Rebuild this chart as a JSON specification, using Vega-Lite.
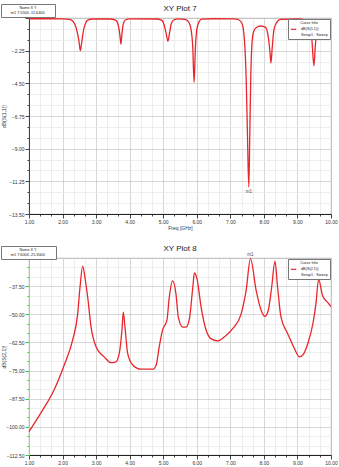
{
  "$schema": "https://vega.github.io/schema/vega-lite/v6.json",
  "padding": {"left": 0, "top": 3, "right": 0, "bottom": 0},
  "background": "white",
  "spacing": 13,
  "config": {
    "font": "Liberation Sans",
    "view": {"stroke": "#9a9a9a", "strokeWidth": 0.8},
    "axis": {"labelFontSize": 5, "titleFontSize": 5, "labelColor": "#333", "titleColor": "#333", "titleFontWeight": "normal", "domainColor": "#444", "tickColor": "#444", "labelOverlap": false, "labelFlush": false, "labelPadding": 1, "titlePadding": 1, "gridWidth": 0.7},
    "axisY": {"minExtent": 21, "maxExtent": 21, "titlePadding": 2},
    "title": {"fontSize": 8, "fontWeight": "normal", "color": "#222", "frame": "group"},
    "legend": {"titleFontSize": 3.8, "labelFontSize": 3.8, "titleFontWeight": "normal", "titleColor": "#222", "labelColor": "#222", "fillColor": "white", "strokeColor": "#777", "padding": 2, "cornerRadius": 0, "titlePadding": 1, "rowPadding": 1, "titleAnchor": "middle"}
  },
  "resolve": {"scale": {"color": "independent", "shape": "independent"}, "legend": {"color": "independent", "shape": "independent"}},
  "datasets": {
    "s11": [
      {"f":1.0,"v":-0.05},{"f":1.5,"v":-0.05},{"f":2.0,"v":-0.06},{"f":2.2,"v":-0.1},{"f":2.3,"v":-0.2},{"f":2.38,"v":-0.5},{"f":2.44,"v":-1.0},{"f":2.49,"v":-1.6},{"f":2.53,"v":-2.25},{"f":2.57,"v":-1.7},{"f":2.62,"v":-0.9},{"f":2.68,"v":-0.4},{"f":2.75,"v":-0.15},{"f":2.9,"v":-0.07},
      {"f":3.4,"v":-0.07},{"f":3.58,"v":-0.15},{"f":3.66,"v":-0.5},{"f":3.71,"v":-1.2},{"f":3.74,"v":-1.8},{"f":3.77,"v":-1.1},{"f":3.81,"v":-0.4},{"f":3.88,"v":-0.12},{"f":4.0,"v":-0.06},
      {"f":4.8,"v":-0.07},{"f":4.95,"v":-0.15},{"f":5.03,"v":-0.5},{"f":5.09,"v":-1.1},{"f":5.14,"v":-1.6},{"f":5.19,"v":-1.0},{"f":5.24,"v":-0.4},{"f":5.32,"v":-0.12},{"f":5.45,"v":-0.06},
      {"f":5.65,"v":-0.1},{"f":5.75,"v":-0.25},{"f":5.83,"v":-0.8},{"f":5.88,"v":-2.0},{"f":5.92,"v":-4.43},{"f":5.96,"v":-2.0},{"f":6.0,"v":-0.8},{"f":6.07,"v":-0.25},{"f":6.15,"v":-0.08},{"f":6.5,"v":-0.05},
      {"f":7.1,"v":-0.06},{"f":7.25,"v":-0.12},{"f":7.35,"v":-0.4},{"f":7.42,"v":-1.5},{"f":7.47,"v":-4.0},{"f":7.51,"v":-8.0},{"f":7.55,"v":-11.64},{"f":7.58,"v":-8.0},{"f":7.61,"v":-4.0},{"f":7.65,"v":-1.6},{"f":7.7,"v":-0.9},{"f":7.78,"v":-0.65},{"f":7.9,"v":-0.55},{"f":8.05,"v":-0.65},
      {"f":8.13,"v":-1.3},{"f":8.18,"v":-2.3},{"f":8.21,"v":-3.1},{"f":8.25,"v":-2.0},{"f":8.3,"v":-0.8},{"f":8.38,"v":-0.3},{"f":8.5,"v":-0.1},{"f":9.0,"v":-0.07},
      {"f":9.25,"v":-0.15},{"f":9.35,"v":-0.5},{"f":9.43,"v":-1.5},{"f":9.49,"v":-3.3},{"f":9.53,"v":-2.0},{"f":9.58,"v":-0.9},{"f":9.65,"v":-0.5},{"f":9.75,"v":-0.3},{"f":9.9,"v":-0.2},{"f":10.0,"v":-0.18}
    ],
    "m7": [{"name":"m1","f":7.55,"v":-11.64}],
    "s21": [
      {"f":1.0,"v":-102.1},{"f":1.36,"v":-93.7},{"f":1.75,"v":-83.5},{"f":2.05,"v":-72.5},{"f":2.3,"v":-61.5},{"f":2.45,"v":-49.9},{"f":2.52,"v":-38.0},{"f":2.6,"v":-28.6},{"f":2.68,"v":-35.0},{"f":2.75,"v":-42.5},{"f":2.85,"v":-55.7},{"f":3.0,"v":-64.5},{"f":3.24,"v":-68.9},{"f":3.44,"v":-71.5},{"f":3.59,"v":-71.1},{"f":3.69,"v":-67.4},{"f":3.77,"v":-57.0},{"f":3.81,"v":-49.1},{"f":3.86,"v":-55.7},{"f":3.94,"v":-67.4},
      {"f":4.09,"v":-72.5},{"f":4.34,"v":-74.4},{"f":4.69,"v":-74.4},{"f":4.79,"v":-72.5},{"f":4.88,"v":-64.5},{"f":4.98,"v":-57.0},{"f":5.11,"v":-52.6},{"f":5.18,"v":-42.5},{"f":5.28,"v":-35.2},{"f":5.38,"v":-41.0},{"f":5.45,"v":-51.3},{"f":5.58,"v":-55.7},{"f":5.68,"v":-55.7},{"f":5.78,"v":-52.0},{"f":5.88,"v":-38.2},{"f":5.93,"v":-31.6},{"f":6.01,"v":-34.5},
      {"f":6.13,"v":-46.9},{"f":6.28,"v":-57.1},{"f":6.42,"v":-60.8},{"f":6.62,"v":-61.8},{"f":6.82,"v":-60.1},{"f":7.07,"v":-56.4},{"f":7.32,"v":-49.9},{"f":7.47,"v":-39.5},{"f":7.6,"v":-25.3},{"f":7.77,"v":-39.5},{"f":7.92,"v":-48.3},{"f":8.03,"v":-50.9},{"f":8.13,"v":-48.3},{"f":8.23,"v":-38.2},{"f":8.33,"v":-26.5},{"f":8.41,"v":-38.2},
      {"f":8.51,"v":-51.3},{"f":8.71,"v":-58.6},{"f":8.91,"v":-65.2},{"f":9.06,"v":-68.9},{"f":9.16,"v":-68.1},{"f":9.31,"v":-63.0},{"f":9.46,"v":-54.2},{"f":9.55,"v":-45.5},{"f":9.63,"v":-34.5},{"f":9.75,"v":-41.8},{"f":9.9,"v":-44.7},{"f":10.0,"v":-46.6}
    ],
    "m8": [{"name":"m1","f":7.6,"v":-25.3}]
  },
  "vconcat": [
    {
      "title": {"text": "XY Plot 7", "offset": -9},
      "width": 302,
      "height": 196,
      "encoding": {
        "x": {"field": "f", "type": "quantitative", "scale": {"domain": [1, 10], "nice": false, "zero": false},
          "axis": {"title": "Freq [GHz]",
            "values": [1,1.3333,1.6667,2,2.3333,2.6667,3,3.3333,3.6667,4,4.3333,4.6667,5,5.3333,5.6667,6,6.3333,6.6667,7,7.3333,7.6667,8,8.3333,8.6667,9,9.3333,9.6667,10],
            "labelExpr": "abs(datum.value - round(datum.value)) < 0.01 ? format(datum.value, '.2f') : ''",
            "gridColor": {"condition": {"test": "abs(datum.value - round(datum.value)) < 0.01", "value": "#c6c6c6"}, "value": "#e6e6e6"},
            "tickSize": {"condition": {"test": "abs(datum.value - round(datum.value)) < 0.01", "value": 4}, "value": 2},
            "domainColor": "#222"}},
        "y": {"field": "v", "type": "quantitative", "scale": {"domain": [-13.5, 0], "nice": false, "zero": false},
          "axis": {"title": "dB(S(1,1))",
            "values": [0,-0.75,-1.5,-2.25,-3,-3.75,-4.5,-5.25,-6,-6.75,-7.5,-8.25,-9,-9.75,-10.5,-11.25,-12,-12.75,-13.5],
            "labelExpr": "abs(datum.value/2.25 - round(datum.value/2.25)) < 0.01 && datum.value < -0.1 ? format(datum.value, '.2f') : ''",
            "gridColor": {"condition": {"test": "abs(datum.value/2.25 - round(datum.value/2.25)) < 0.01", "value": "#c6c6c6"}, "value": "#e6e6e6"},
            "tickSize": {"condition": {"test": "abs(datum.value/2.25 - round(datum.value/2.25)) < 0.01", "value": 4}, "value": 2}}}
      },
      "layer": [
        {"data": {"name": "s11"},
         "mark": {"type": "line", "strokeWidth": 1.3, "interpolate": "monotone"},
         "encoding": {"color": {"datum": "dB(S(1,1))", "type": "nominal", "scale": {"range": ["#e8262c"]},
           "legend": {"title": "Curve Info", "orient": "top-right", "offset": 1, "symbolType": "stroke", "symbolStrokeWidth": 1.2, "symbolSize": 30,
             "labelExpr": "['dB(S(1,1))', 'Setup1 : Sweep']"}}}},
        {"data": {"name": "m7"},
         "mark": {"type": "point", "opacity": 0},
         "encoding": {"shape": {"field": "name", "type": "nominal",
           "legend": {"title": "Name       X          Y", "orient": "none", "legendX": -28, "legendY": -14, "symbolOpacity": 0, "symbolSize": 0, "symbolStrokeWidth": 0,
             "labelExpr": "'m1      7.5500    -11.6400'"}}}},
        {"data": {"name": "m7"},
         "mark": {"type": "text", "fontSize": 4.5, "color": "#444", "dy": 5},
         "encoding": {"text": {"field": "name"}}},
        {"mark": {"type": "text", "fontSize": 5, "color": "#333"},
         "encoding": {"x": {"datum": 9.25}, "y": {"datum": 0.55}, "text": {"value": "HFSSDesign1"}}}
      ]
    },
    {
      "title": {"text": "XY Plot 8", "offset": -7},
      "width": 302,
      "height": 197,
      "encoding": {
        "x": {"field": "f", "type": "quantitative", "scale": {"domain": [1, 10], "nice": false, "zero": false},
          "axis": {"title": null,
            "values": [1,1.3333,1.6667,2,2.3333,2.6667,3,3.3333,3.6667,4,4.3333,4.6667,5,5.3333,5.6667,6,6.3333,6.6667,7,7.3333,7.6667,8,8.3333,8.6667,9,9.3333,9.6667,10],
            "labelExpr": "abs(datum.value - round(datum.value)) < 0.01 ? format(datum.value, '.2f') : ''",
            "gridColor": {"condition": {"test": "abs(datum.value - round(datum.value)) < 0.01", "value": "#c6c6c6"}, "value": "#e6e6e6"},
            "tickSize": {"condition": {"test": "abs(datum.value - round(datum.value)) < 0.01", "value": 4}, "value": 2},
            "domainColor": "#222"}},
        "y": {"field": "v", "type": "quantitative", "scale": {"domain": [-112.5, -25], "nice": false, "zero": false},
          "axis": {"title": "dB(S(2,1))",
            "values": [-25,-29.1667,-33.3333,-37.5,-41.6667,-45.8333,-50,-54.1667,-58.3333,-62.5,-66.6667,-70.8333,-75,-79.1667,-83.3333,-87.5,-91.6667,-95.8333,-100,-104.1667,-108.3333,-112.5],
            "labelExpr": "abs(datum.value/12.5 - round(datum.value/12.5)) < 0.01 && datum.value < -26 ? format(datum.value, '.2f') : ''",
            "gridColor": {"condition": {"test": "abs(datum.value/12.5 - round(datum.value/12.5)) < 0.01", "value": "#c6c6c6"}, "value": "#e6e6e6"},
            "tickSize": {"condition": {"test": "abs(datum.value/12.5 - round(datum.value/12.5)) < 0.01", "value": 4}, "value": 2},
            "tickColor": "#33cc33", "domainColor": "#88dd88"}}
      },
      "layer": [
        {"data": {"name": "s21"},
         "mark": {"type": "line", "strokeWidth": 1.3, "interpolate": "monotone"},
         "encoding": {"color": {"datum": "dB(S(2,1))", "type": "nominal", "scale": {"range": ["#e8262c"]},
           "legend": {"title": "Curve Info", "orient": "top-right", "offset": 1, "symbolType": "stroke", "symbolStrokeWidth": 1.2, "symbolSize": 30,
             "labelExpr": "['dB(S(2,1))', 'Setup1 : Sweep']"}}}},
        {"data": {"name": "m8"},
         "mark": {"type": "point", "opacity": 0},
         "encoding": {"shape": {"field": "name", "type": "nominal",
           "legend": {"title": "Name       X          Y", "orient": "none", "legendX": -28, "legendY": -12, "symbolOpacity": 0, "symbolSize": 0, "symbolStrokeWidth": 0,
             "labelExpr": "'m1      7.6000    -25.3000'"}}}},
        {"data": {"name": "m8"},
         "mark": {"type": "text", "fontSize": 4.5, "color": "#444", "dy": -4},
         "encoding": {"text": {"field": "name"}}},
        {"mark": {"type": "text", "fontSize": 5, "color": "#333"},
         "encoding": {"x": {"datum": 9.25}, "y": {"datum": -21.1}, "text": {"value": "HFSSDesign1"}}}
      ]
    }
  ]
}
